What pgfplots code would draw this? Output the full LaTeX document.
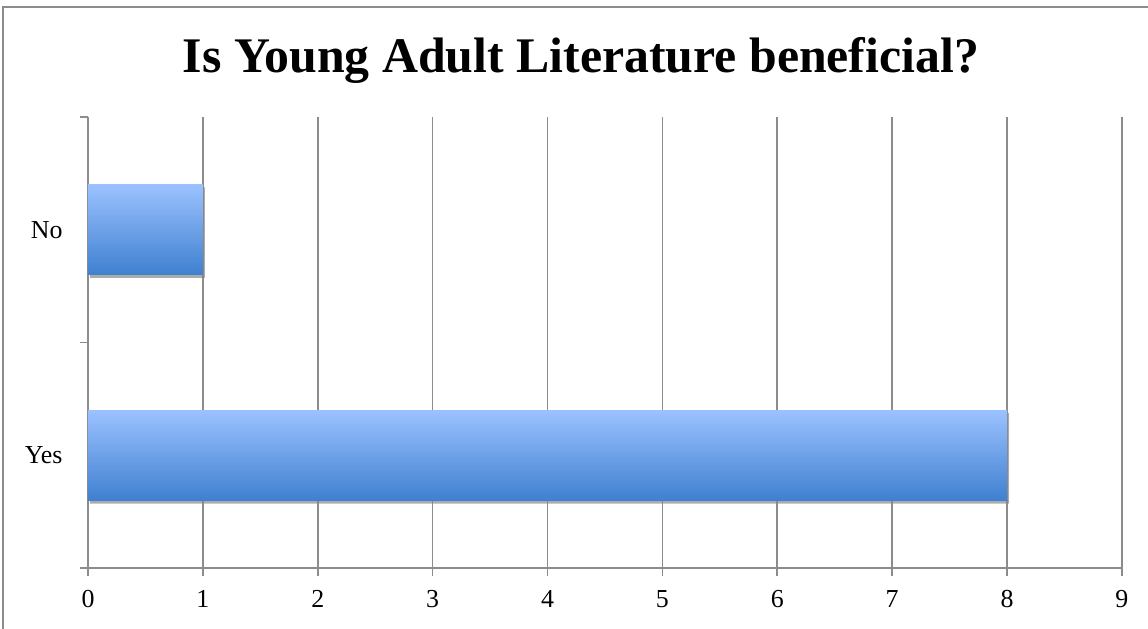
\documentclass[border=0pt]{standalone}
\usepackage{fontspec}
\setmainfont{Liberation Serif}
\usepackage{pgfplots}
\pgfplotsset{compat=1.18}
\usetikzlibrary{shadows}
\definecolor{gridgray}{HTML}{8C8C8C}
\definecolor{bartop}{HTML}{9BC2FF}
\definecolor{barbot}{HTML}{3F80D0}
\tikzset{barshadow/.style={drop shadow={top color=black!45, bottom color=black!45,
    opacity=0.45, shadow xshift=2bp, shadow yshift=-3bp}}}
\begin{document}
\begin{tikzpicture}[x=1bp,y=1bp]
\useasboundingbox (-88,-61) rectangle (1060,568);
\draw[gridgray, line width=1.5bp] (-85,-90) rectangle (1090,561);
\begin{axis}[
    at={(0,0)}, anchor=south west,
    width=1034bp, height=451bp, scale only axis,
    xmin=0, xmax=9, ymin=-0.5, ymax=1.5,
    xtick={0,...,9},
    ytick={0,1}, yticklabels={Yes,No},
    minor ytick={-0.5,0.5,1.5},
    axis lines*=left,
    axis line style={gridgray, line width=1.6bp},
    xmajorgrids, grid style={gridgray, line width=1.6bp},
    tick align=outside,
    xtick style={gridgray, line width=1.6bp},
    ytick style={gridgray, line width=1.6bp},
    major tick length=8bp, minor tick length=8bp,
    every major y tick/.append style={draw=none},
    tick label style={font=\fontsize{26}{26}\selectfont, black},
    /pgf/number format/assume math mode=true,
    yticklabel style={xshift=-14bp},
    xticklabel style={yshift=-11bp},
    xbar, bar width=0.4,
]
% one plot per bar so that each gets its own gradient
\addplot[xbar, bar shift=0pt, draw=none, top color=bartop, bottom color=barbot, barshadow]
    coordinates {(8,0)};
\addplot[xbar, bar shift=0pt, draw=none, top color=bartop, bottom color=barbot, barshadow]
    coordinates {(1,1)};
\end{axis}
\node[font=\bfseries\fontsize{50}{50}\selectfont, anchor=base] at (493,495)
    {Is Young Adult Literature beneficial?};
\end{tikzpicture}
\end{document}
